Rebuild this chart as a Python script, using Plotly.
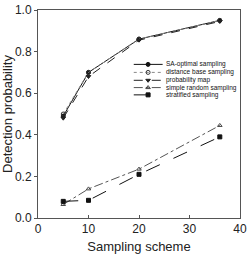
import plotly.graph_objects as go

x_scheme = [5, 10, 20, 36]
sa_optimal = [0.49, 0.70, 0.86, 0.95]
distance_base = [0.50, 0.70, 0.86, 0.95]
probability_map = [0.48, 0.68, 0.855, 0.945]
simple_random = [0.065, 0.14, 0.235, 0.445]
stratified = [0.08, 0.085, 0.21, 0.39]

x_ticks = [0, 10, 20, 30, 40]
y_ticks = [0.0, 0.2, 0.4, 0.6, 0.8, 1.0]

series_names = ["SA-optimal sampling", "distance base sampling", "probability map",
                "simple random sampling", "stratified sampling"]
series_values = [sa_optimal, distance_base, probability_map, simple_random, stratified]

styles = [
    dict(color="#111111", dash="solid", symbol="circle", mcolor="#111111"),
    dict(color="#888888", dash="dot", symbol="circle-open", mcolor="#333333"),
    dict(color="#222222", dash="dash", symbol="triangle-down", mcolor="#222222"),
    dict(color="#555555", dash="dashdot", symbol="triangle-up-open", mcolor="#444444"),
    dict(color="#111111", dash="longdash", symbol="square", mcolor="#111111"),
]

fig = go.Figure()
for name, vals, st in zip(series_names, series_values, styles):
    fig.add_trace(go.Scatter(
        x=x_scheme, y=vals, mode="lines+markers", name=name, showlegend=False,
        line=dict(color=st["color"], dash=st["dash"], width=1),
        marker=dict(symbol=st["symbol"], size=4, color=st["mcolor"],
                    line=dict(color=st["mcolor"], width=1)),
    ))

# custom compact legend on an overlay axis spanning the plot area
leg_rows = [0.7385, 0.700, 0.662, 0.627, 0.592]
lx0, lxm, lx1, ltx = 0.474, 0.545, 0.617, 0.625
for name, st, ry in zip(series_names, styles, leg_rows):
    fig.add_trace(go.Scatter(
        x=[lx0, lx1], y=[ry, ry], mode="lines", xaxis="x2", yaxis="y2", showlegend=False,
        line=dict(color=st["color"], dash=st["dash"], width=1), hoverinfo="skip"))
    fig.add_trace(go.Scatter(
        x=[lxm], y=[ry], mode="markers", xaxis="x2", yaxis="y2", showlegend=False,
        marker=dict(symbol=st["symbol"], size=4, color=st["mcolor"],
                    line=dict(color=st["mcolor"], width=1)), hoverinfo="skip"))
    fig.add_annotation(x=ltx, y=ry, xref="paper", yref="paper", text=name,
                       showarrow=False, xanchor="left", yanchor="middle",
                       font=dict(size=6.5, color="#111111", family="Liberation Sans, Arial"))

fig.update_layout(
    width=250, height=255,
    margin=dict(l=38, r=3, t=5, b=32),
    paper_bgcolor="white", plot_bgcolor="white",
    font=dict(family="Liberation Sans, Arial", color="#222222"),
    xaxis=dict(range=[0, 40], tickmode="array", tickvals=x_ticks, showgrid=False, zeroline=False,
               showline=True, mirror=True, linecolor="#555555", linewidth=1,
               ticks="inside", ticklen=3, tickcolor="#555555", ticklabeloverflow="allow",
               tickfont=dict(size=12, color="#222222"),
               title=dict(text="Sampling scheme", font=dict(size=13, color="#222222"), standoff=6)),
    yaxis=dict(range=[0, 1], tickmode="array", tickvals=y_ticks, tickformat=".1f", showgrid=False,
               zeroline=False, showline=True, mirror=True, linecolor="#555555", linewidth=1,
               ticks="outside", ticklen=3, tickcolor="#555555", ticklabeloverflow="allow",
               tickfont=dict(size=12, color="#222222"),
               title=dict(text="Detection probability", font=dict(size=13, color="#222222"), standoff=2)),
    xaxis2=dict(overlaying="x", range=[0, 1], visible=False, fixedrange=True),
    yaxis2=dict(overlaying="y", range=[0, 1], visible=False, fixedrange=True),
)

fig.write_html("out.html")
